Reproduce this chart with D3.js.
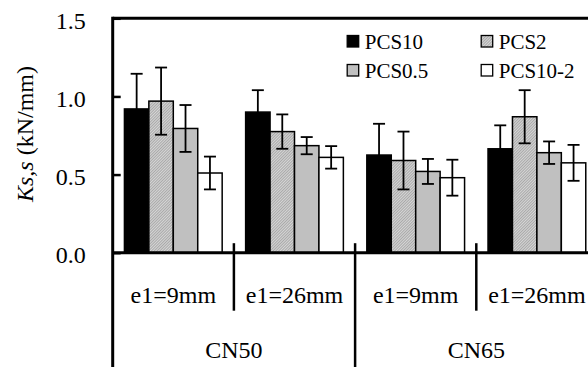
<!DOCTYPE html>
<html>
<head>
<meta charset="utf-8">
<script src="https://cdn.jsdelivr.net/npm/d3@7"></script>
<style>
  html, body { margin: 0; padding: 0; background: #fff; }
  svg { display: block; overflow: hidden; }
</style>
</head>
<body>
<svg id="chart" width="588" height="367"></svg>
<script>
// Nail type and end distance groups
const nails = ["CN50", "CN65"];
const edges = ["e1=9mm", "e1=26mm"];
const series = ["PCS10", "PCS2", "PCS0.5", "PCS10-2"];

// Mean slip modulus Ks,s (kN/mm) per series, ordered CN50 9/26, CN65 9/26
const meanPCS10 = [0.92, 0.90, 0.625, 0.665];
const meanPCS2 = [0.97, 0.775, 0.59, 0.87];
const meanPCS05 = [0.795, 0.685, 0.52, 0.64];
const meanPCS102 = [0.51, 0.61, 0.48, 0.575];

// Standard deviations
const sdPCS10 = [0.225, 0.14, 0.20, 0.15];
const sdPCS2 = [0.215, 0.11, 0.185, 0.17];
const sdPCS05 = [0.15, 0.055, 0.08, 0.072];
const sdPCS102 = [0.105, 0.072, 0.115, 0.115];

const yTicks = [0, 0.5, 1.0, 1.5];

const means = [meanPCS10, meanPCS2, meanPCS05, meanPCS102];
const sds = [sdPCS10, sdPCS2, sdPCS05, sdPCS102];

const SERIF = "'Liberation Serif', 'Times New Roman', Times, serif";

const svg = d3.select("#chart").style("font-family", SERIF);

const defs = svg.append("defs");
const hatch = defs.append("pattern")
  .attr("id", "hatch")
  .attr("patternUnits", "userSpaceOnUse")
  .attr("width", 2).attr("height", 2)
  .attr("patternTransform", "rotate(45)");
hatch.append("rect").attr("width", 2).attr("height", 2).attr("fill", "#d6d6d6");
hatch.append("line").attr("x1", 0.5).attr("y1", 0).attr("x2", 0.5).attr("y2", 2)
  .attr("stroke", "#a4a4a4").attr("stroke-width", 0.9);

const fills = {
  "PCS10": "#000000",
  "PCS2": "url(#hatch)",
  "PCS0.5": "#c0c0c0",
  "PCS10-2": "#ffffff"
};

// Category keys: one per nail / end distance combination
const cats = [];
nails.forEach(n => edges.forEach(e => cats.push({ key: n + "|" + e, nail: n, edge: e })));

const plotLeft = 112.7, plotRight = 597.5, plotTop = 18.3, zeroY = 252.7;

const x0 = d3.scaleBand().domain(cats.map(c => c.key)).range([plotLeft, plotRight]).padding(0);
const x1 = d3.scaleBand().domain(series).range([0, x0.bandwidth()]).paddingInner(0).paddingOuter(0.48);
const y = d3.scaleLinear().domain([0, 1.5]).range([zeroY, plotTop]);

// Flattened bar records
const bars = [];
cats.forEach((c, ci) => series.forEach((s, si) => {
  bars.push({ cat: c.key, series: s, value: means[si][ci], sd: sds[si][ci] });
}));

const g = svg.append("g");

// Bars
g.selectAll("rect.bar").data(bars).join("rect")
  .attr("class", "bar")
  .attr("x", d => x0(d.cat) + x1(d.series))
  .attr("y", d => y(d.value))
  .attr("width", x1.bandwidth())
  .attr("height", d => y(0) - y(d.value))
  .attr("fill", d => fills[d.series])
  .attr("stroke", "#000")
  .attr("stroke-width", 1.5);

// Error bars
const eb = g.selectAll("g.err").data(bars).join("g").attr("class", "err")
  .attr("transform", d => `translate(${x0(d.cat) + x1(d.series) + x1.bandwidth() / 2},0)`)
  .attr("stroke", "#000").attr("stroke-width", 1.8);
eb.append("line").attr("x1", 0).attr("x2", 0)
  .attr("y1", d => y(d.value + d.sd)).attr("y2", d => y(d.value - d.sd));
eb.append("line").attr("x1", -6).attr("x2", 6)
  .attr("y1", d => y(d.value + d.sd)).attr("y2", d => y(d.value + d.sd));
eb.append("line").attr("x1", -6).attr("x2", 6)
  .attr("y1", d => y(d.value - d.sd)).attr("y2", d => y(d.value - d.sd));

// Y axis with inward ticks
const yAxis = d3.axisLeft(y).tickValues(yTicks).tickFormat(d3.format(".1f"))
  .tickSizeInner(-8).tickSizeOuter(0).tickPadding(27);
const ya = svg.append("g").attr("transform", `translate(${plotLeft},0)`).call(yAxis);
ya.attr("font-family", null).attr("font-size", null);
ya.select(".domain").remove();
ya.selectAll(".tick line").attr("stroke", "#000").attr("stroke-width", 2.5);
ya.selectAll(".tick text").attr("dy", "0.42em")
  .style("font-family", SERIF).style("font-size", "24px").attr("fill", "#000");

// Frame: top border, left axis (running down through the category rows), zero line
svg.append("line").attr("x1", plotLeft).attr("x2", plotRight).attr("y1", plotTop).attr("y2", plotTop)
  .attr("stroke", "#000").attr("stroke-width", 3);
svg.append("line").attr("x1", plotLeft).attr("x2", plotLeft).attr("y1", plotTop - 1.5).attr("y2", 367)
  .attr("stroke", "#000").attr("stroke-width", 3);
svg.append("line").attr("x1", plotLeft).attr("x2", plotRight).attr("y1", zeroY).attr("y2", zeroY)
  .attr("stroke", "#000").attr("stroke-width", 3);

// Category dividers: short between end distances, long between nail types
const dividers = cats.slice(1).map((c, i) => ({
  x: x0(c.key),
  major: c.nail !== cats[i].nail
}));
dividers.push({ x: plotRight, major: true });
svg.selectAll("line.div").data(dividers).join("line")
  .attr("class", "div")
  .attr("x1", d => d.x).attr("x2", d => d.x)
  .attr("y1", zeroY - 9.5)
  .attr("y2", d => d.major ? 367 : 310.7)
  .attr("stroke", "#000").attr("stroke-width", 2.5);

// End distance labels
svg.selectAll("text.edge").data(cats).join("text")
  .attr("class", "edge")
  .attr("x", d => x0(d.key) + x0.bandwidth() / 2)
  .attr("y", 303.3)
  .attr("text-anchor", "middle")
  .style("font-family", SERIF).style("font-size", "24px")
  .text(d => d.edge);

// Nail labels, centred under their pair of categories
svg.selectAll("text.nail").data(nails).join("text")
  .attr("class", "nail")
  .attr("x", n => {
    const ks = cats.filter(c => c.nail === n).map(c => c.key);
    return (x0(ks[0]) + x0(ks[ks.length - 1]) + x0.bandwidth()) / 2;
  })
  .attr("y", 358.3)
  .attr("text-anchor", "middle")
  .style("font-family", SERIF).style("font-size", "24px")
  .text(n => n);

// Y axis title
const yt = svg.append("text")
  .attr("transform", "translate(33,134) rotate(-90)")
  .attr("text-anchor", "middle")
  .style("font-family", SERIF).style("font-size", "24px");
yt.append("tspan").style("font-style", "italic").text("Ks,s");
yt.append("tspan").text(" (kN/mm)");

// Legend, two columns by two rows
const legCols = [346.7, 480.7], legRows = [35, 64];
const leg = svg.selectAll("g.leg").data(series).join("g").attr("class", "leg")
  .attr("transform", (d, i) => `translate(${legCols[i % 2]},${legRows[Math.floor(i / 2)]})`);
leg.append("rect").attr("x", 0.5).attr("y", 0.5).attr("width", 11.5).attr("height", 11.5)
  .attr("fill", d => fills[d]).attr("stroke", "#000").attr("stroke-width", 1.3);
leg.append("text").attr("x", 18).attr("y", 14)
  .style("font-family", SERIF).style("font-size", "21px")
  .text(d => d);
</script>
</body>
</html>
